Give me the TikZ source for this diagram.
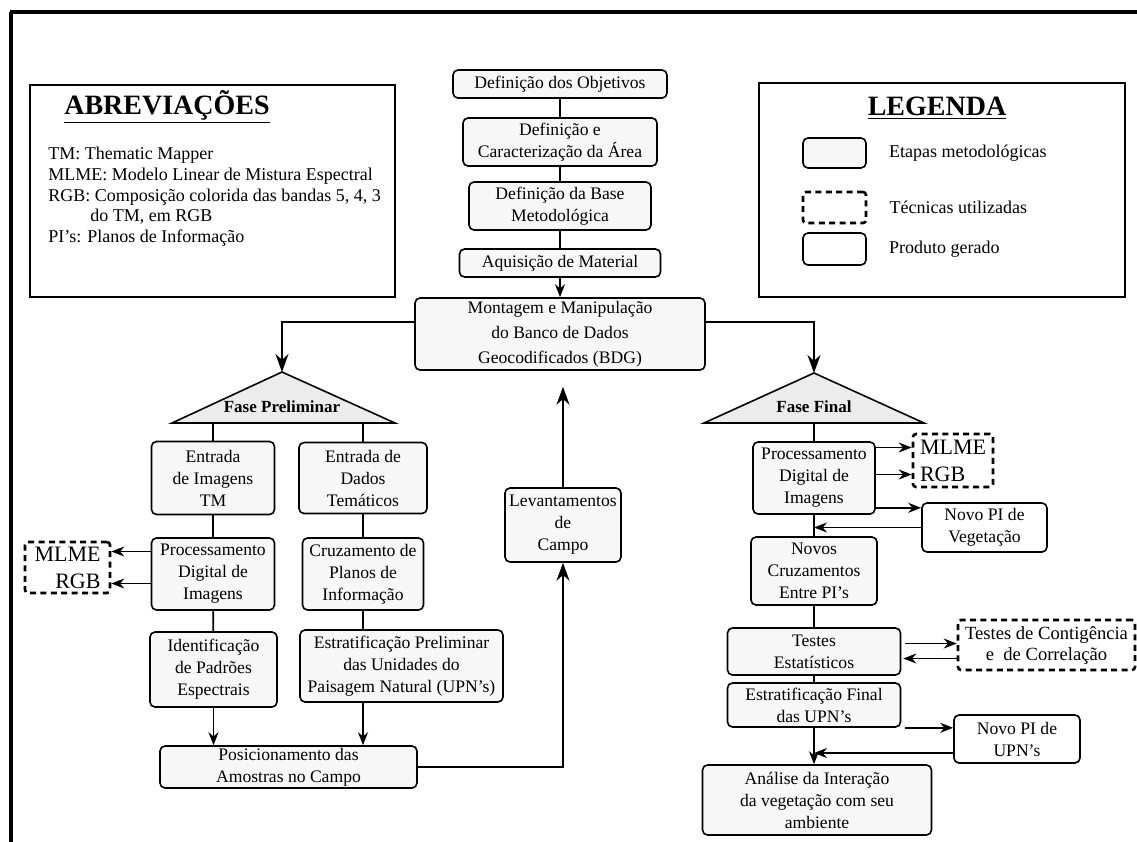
\documentclass[tikz,border=0pt]{standalone}
\usepackage{fontspec}
\setmainfont{Liberation Serif}
\usetikzlibrary{arrows.meta, positioning, calc}

\begin{document}
\begin{tikzpicture}[
    x=0.5pt, y=-0.5pt,
    font=\fontsize{8.8}{11}\selectfont,
    etapa/.style={rectangle, rounded corners=2.5pt, draw, line width=0.8pt, fill=gray!6, align=center, inner sep=0pt},
    produto/.style={rectangle, rounded corners=2.5pt, draw, line width=0.8pt, fill=white, align=center, inner sep=0pt},
    tecnica/.style={rectangle, rounded corners=1.5pt, draw, line width=1.3pt, dash pattern=on 3pt off 2.2pt, inner sep=0pt, font=\fontsize{11}{13.5}\selectfont},
    fase/.style={draw, line width=0.8pt, fill=gray!15},
    quadro/.style={rectangle, draw, line width=0.8pt},
    titulo/.style={font=\fontsize{14}{16}\selectfont\bfseries},
    rotulo/.style={font=\fontsize{8.5}{10}\selectfont\bfseries},
    item/.style={inner sep=0pt, font=\fontsize{9}{10.3}\selectfont},
    arrow/.style={-{Stealth[length=6.5pt, width=5pt]}, line width=0.8pt},
    bigarrow/.style={-{Stealth[length=9pt, width=6.5pt]}, line width=0.8pt},
    link/.style={line width=0.8pt}
]
\useasboundingbox (0,0) rectangle (1137,842);

\draw[line width=1.6pt] (10,12) -- (1137,12);
\draw[line width=1.6pt] (11,12) -- (11,842);

% abreviacoes
\node[quadro, minimum width=182.5pt, minimum height=106pt] (abrev) at (212.5,191) {};
\node[titulo] (abrevtit) at (167,107) {\underline{ABREVIAÇÕES}};
\node[item, anchor=north west, align=left] (abrevtxt) at (48,147) {TM: Thematic Mapper\\MLME: Modelo Linear de Mistura Espectral\\RGB: Composição colorida das bandas 5, 4, 3\\\hspace*{21pt}do TM, em RGB\\PI's: Planos de Informação};

% legenda
\node[quadro, minimum width=183pt, minimum height=107pt] (legenda) at (942,190) {};
\node[titulo] (legtit) at (937,108) {\underline{LEGENDA}};
\node[etapa, minimum width=31.5pt, minimum height=15pt] (legetapa) at (834.5,153) {};
\node[item, right=11pt of legetapa] (legetapatxt) {Etapas metodológicas};
\node[tecnica, minimum width=31.5pt, minimum height=15.5pt] (legtec) at (834.5,207.5) {};
\node[item, right=11pt of legtec] (legtectxt) {Técnicas utilizadas};
\node[produto, minimum width=31.5pt, minimum height=16pt] (legprod) at (834.5,249) {};
\node[item, right=11pt of legprod] (legprodtxt) {Produto gerado};

% etapas iniciais
\node[etapa, minimum width=107pt, minimum height=14pt] (objetivos) at (560,84) {Definição dos Objetivos};
\node[etapa, minimum width=97pt, minimum height=24pt] (area) at (560,142) {Definição e\\Caracterização da Área};
\node[etapa, minimum width=91pt, minimum height=24pt] (base) at (560,206) {Definição da Base\\Metodológica};
\node[etapa, minimum width=100.5pt, minimum height=14pt] (material) at (560,263) {Aquisição de Material};
\node[etapa, minimum width=145pt, minimum height=36pt, font=\fontsize{8.8}{12.5}\selectfont] (bdg) at (560,334) {Montagem e Manipulação\\do Banco de Dados\\Geocodificados (BDG)};

\draw[link] (objetivos) -- (area);
\draw[link] (area) -- (base);
\draw[link] (base) -- (material);
\draw[arrow] (material) -- (bdg);

% fase preliminar
\coordinate (prelimtopo) at (282,372);
\coordinate (prelimbase) at (282,423);
\draw[fase] (prelimtopo) -- (395,423) -- (172,423) -- cycle;
\node[rotulo] (prelim) at (282,407) {Fase Preliminar};

\node[etapa, minimum width=61.5pt, minimum height=36.5pt] (entTM) at (213,478) {Entrada\\de Imagens\\TM};
\node[etapa, minimum width=64pt, minimum height=35.5pt] (entDad) at (363,478) {Entrada de\\Dados\\Temáticos};
\node[etapa, minimum width=61.5pt, minimum height=36pt] (procL) at (213,574) {Processamento\\Digital de\\Imagens};
\node[etapa, minimum width=60.5pt, minimum height=36pt] (cruz) at (363,574) {Cruzamento de\\Planos de\\Informação};
\node[tecnica, minimum width=42.5pt, minimum height=25.5pt, align=right] (mlmeL) at (67.5,567.5) {MLME\\RGB};
\node[etapa, minimum width=63.5pt, minimum height=37.5pt] (ident) at (213.5,669.5) {Identificação\\de Padrões\\Espectrais};
\node[etapa, minimum width=101.5pt, minimum height=36pt] (estratP) at (401.5,666) {Estratificação Preliminar\\das Unidades do\\Paisagem Natural (UPN's)};
\node[etapa, minimum width=128.5pt, minimum height=21pt] (posic) at (288.5,767) {Posicionamento das\\Amostras no Campo};
\node[etapa, minimum width=58pt, minimum height=37pt] (campo) at (563,525) {Levantamentos\\de\\Campo};

\draw[bigarrow] ([yshift=6pt]bdg.west) -| (prelimtopo);
\draw[link] (entTM.north) -- (entTM.north |- prelimbase);
\draw[link] (entDad.north) -- (entDad.north |- prelimbase);
\draw[link] (entTM) -- (procL);
\draw[link] (procL) -- (ident);
\draw[arrow] (ident) -- (ident |- posic.north);
\draw[link] (entDad) -- (cruz);
\draw[link] (cruz) -- (cruz |- estratP.north);
\draw[arrow] (estratP.south -| cruz) -- (cruz |- posic.north);
\coordinate (mlmeLa) at ([yshift=8pt]mlmeL.east);
\coordinate (mlmeLb) at ([yshift=-8pt]mlmeL.east);
\draw[arrow] (procL.west |- mlmeLa) -- (mlmeLa);
\draw[arrow] (procL.west |- mlmeLb) -- (mlmeLb);
\draw[bigarrow] (posic.east) -| (campo.south);
\draw[bigarrow, shorten >=8pt] (campo.north) -- (campo.north |- bdg.south);

% fase final
\coordinate (finaltopo) at (814,373);
\coordinate (finalbase) at (814,423);
\draw[fase] (finaltopo) -- (924,423) -- (704,423) -- cycle;
\node[rotulo] (final) at (814,407) {Fase Final};

\node[etapa, minimum width=61pt, minimum height=36pt] (procR) at (814,478) {Processamento\\Digital de\\Imagens};
\node[tecnica, minimum width=40pt, minimum height=26.5pt, align=left] (mlmeR) at (953,460.5) {MLME\\RGB};
\node[produto, minimum width=62.5pt, minimum height=24.5pt] (novoVeg) at (984.5,527.5) {Novo PI de\\Vegetação};
\node[etapa, minimum width=63pt, minimum height=34pt] (novosCruz) at (814,571) {Novos\\Cruzamentos\\Entre PI's};
\node[etapa, minimum width=86.5pt, minimum height=23.5pt] (testes) at (814,651.5) {Testes\\Estatísticos};
\node[tecnica, minimum width=88.5pt, minimum height=25pt, align=center, font=\fontsize{9.3}{10.5}\selectfont] (testesC) at (1046.5,645) {Testes de Contigência\\e\ \ de Correlação};
\node[etapa, minimum width=86.5pt, minimum height=22pt] (estratF) at (814,705) {Estratificação Final\\das UPN's};
\node[produto, minimum width=63pt, minimum height=24pt] (novoUPN) at (1017,739) {Novo PI de\\UPN's};
\node[etapa, minimum width=114.5pt, minimum height=35pt] (analise) at (817,800) {Análise da Interação\\da vegetação com seu\\ambiente};

\draw[bigarrow] ([yshift=6pt]bdg.east) -| (finaltopo);
\draw[link] (procR.north) -- (procR.north |- finalbase);
\coordinate (mlmeRa) at ([yshift=6.5pt]mlmeR.west);
\coordinate (mlmeRb) at ([yshift=-7pt]mlmeR.west);
\draw[arrow] (procR.east |- mlmeRa) -- (mlmeRa);
\draw[arrow] (procR.east |- mlmeRb) -- (mlmeRb);
\coordinate (vegA) at ([yshift=3.5pt]procR.south east);
\draw[arrow] (vegA) -- (vegA -| novoVeg.west);
\draw[arrow] (novoVeg.west) -- (novoVeg.west -| procR.south);
\draw[link] (procR) -- (novosCruz);
\draw[link] (novosCruz) -- (testes);
\coordinate (testA) at ([yshift=4pt]testes.east);
\coordinate (testB) at ([yshift=-3.5pt]testes.east);
\draw[arrow] ([xshift=2pt]testA) -- (testA -| testesC.west);
\draw[arrow] (testB -| testesC.west) -- ([xshift=1pt]testB);
\draw[link] (testes) -- (estratF);
\draw[arrow] (estratF.south) -- (estratF.south |- analise.north);
\coordinate (upnA) at (estratF.south east);
\draw[arrow] ([xshift=2pt]upnA) -- (upnA -| novoUPN.west);
\coordinate (upnB) at ([yshift=-7pt]novoUPN.west);
\draw[arrow] (upnB) -- (upnB -| estratF.south);

\end{tikzpicture}
\end{document}
